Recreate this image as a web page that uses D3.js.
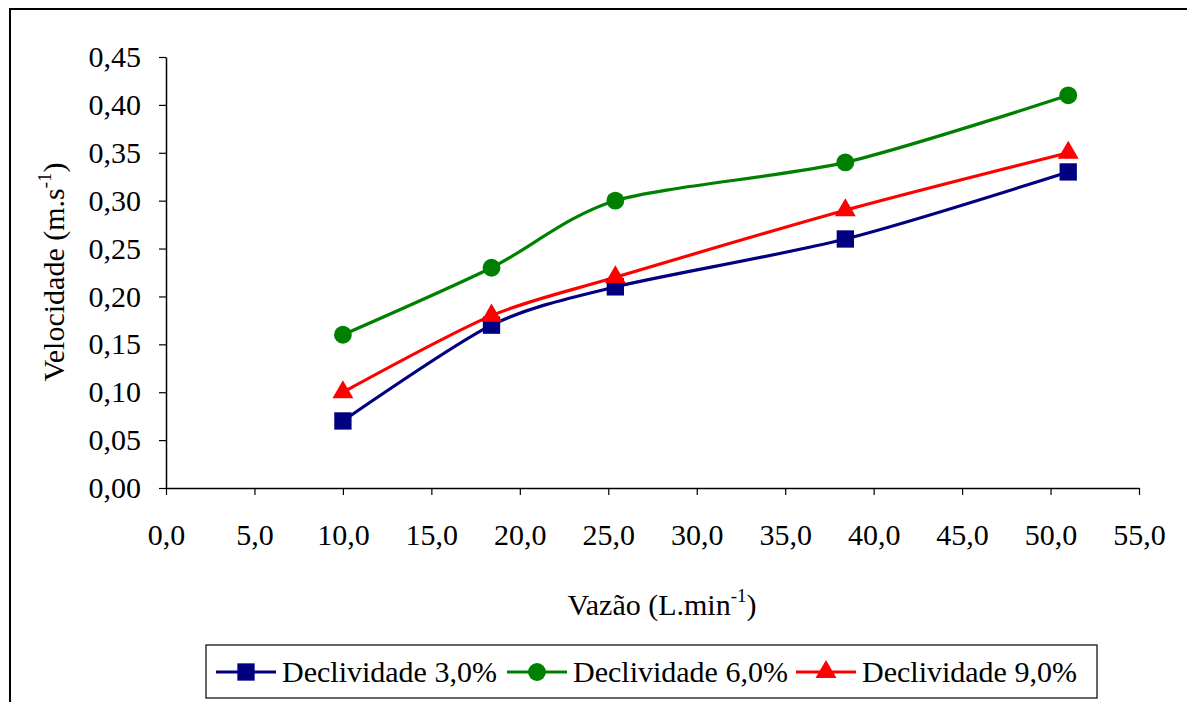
<!DOCTYPE html>
<html>
<head>
<meta charset="utf-8">
<script src="https://cdn.jsdelivr.net/npm/d3@7"></script>
<style>
  html, body { margin: 0; padding: 0; background: #fff; }
  svg { display: block; }
</style>
</head>
<body>
<svg id="chart" width="1187" height="702"></svg>
<script>
// Flow rate (L/min) at each measurement
const vazao = [10.0, 18.4, 25.4, 38.4, 51.0];
// Mean velocity (m/s) for each slope
const decl3 = [0.07, 0.17, 0.21, 0.26, 0.33];
const decl6 = [0.16, 0.23, 0.30, 0.34, 0.41];
const decl9 = [0.10, 0.18, 0.22, 0.29, 0.35];
const seriesNames = ["Declividade 3,0%", "Declividade 6,0%", "Declividade 9,0%"];
const xTicks = [0, 5, 10, 15, 20, 25, 30, 35, 40, 45, 50, 55];
const yTicks = [0, 0.05, 0.10, 0.15, 0.20, 0.25, 0.30, 0.35, 0.40, 0.45];

const svg = d3.select("#chart");
const fmtX = d => d.toFixed(1).replace(".", ",");
const fmtY = d => d.toFixed(2).replace(".", ",");

// outer chart frame (right and bottom edges run off the page)
svg.append("rect")
  .attr("x", 10).attr("y", 9).attr("width", 1200).attr("height", 720)
  .attr("fill", "none").attr("stroke", "#000").attr("stroke-width", 2);

const x = d3.scaleLinear().domain([0, 55]).range([166, 1139]);
const y = d3.scaleLinear().domain([0, 0.45]).range([488, 57]);

// axes
const xAxis = svg.append("g").attr("transform", "translate(0,488)")
  .call(d3.axisBottom(x).tickValues(xTicks).tickFormat(fmtX).tickSize(7).tickSizeOuter(0).tickPadding(29));
const yAxis = svg.append("g").attr("transform", "translate(166,0)")
  .call(d3.axisLeft(y).tickValues(yTicks).tickFormat(fmtY).tickSize(7).tickSizeOuter(0).tickPadding(18));

[xAxis, yAxis].forEach(g => {
  g.select(".domain").attr("stroke", "#000").attr("stroke-width", 1.5);
  g.selectAll(".tick line").attr("stroke", "#000").attr("stroke-width", 1.2);
  g.selectAll(".tick text").attr("fill", "#000").style("font-size", "30px");
});

// axis titles
const xt = svg.append("text").attr("x", 662).attr("y", 615)
  .attr("text-anchor", "middle").style("font-size", "30px").attr("fill", "#000");
xt.append("tspan").text("Vazão (L.min");
xt.append("tspan").attr("dy", -13).style("font-size", "19px").text("-1");
xt.append("tspan").attr("dy", 13).text(")");

const yt = svg.append("text").attr("transform", "translate(64,272) rotate(-90)")
  .attr("text-anchor", "middle").style("font-size", "30px").attr("fill", "#000");
yt.append("tspan").text("Velocidade (m.s");
yt.append("tspan").attr("dy", -13).style("font-size", "19px").text("-1");
yt.append("tspan").attr("dy", 13).text(")");

// series
const series = [
  { name: seriesNames[0], values: decl3, color: "#000080", symbol: d3.symbolSquare, size: 300 },
  { name: seriesNames[1], values: decl6, color: "#008000", symbol: d3.symbolCircle, size: 250 },
  { name: seriesNames[2], values: decl9, color: "#FF0000", symbol: d3.symbolTriangle, size: 190 }
];

const line = d3.line()
  .x((d, i) => x(vazao[i]))
  .y(d => y(d))
  .curve(d3.curveCardinal.tension(0.2));

series.forEach(s => {
  svg.append("path")
    .attr("d", line(s.values))
    .attr("fill", "none").attr("stroke", s.color).attr("stroke-width", 3.2);
});
series.forEach(s => {
  svg.append("g").selectAll("path").data(s.values).join("path")
    .attr("transform", (d, i) => `translate(${x(vazao[i])},${y(d)})`)
    .attr("d", d3.symbol().type(s.symbol).size(s.size))
    .attr("fill", s.color);
});

// legend
const lg = svg.append("g");
lg.append("rect").attr("x", 206).attr("y", 645).attr("width", 891).attr("height", 53)
  .attr("fill", "#fff").attr("stroke", "#000").attr("stroke-width", 1.2);
const legendX = [216, 507, 796];
series.forEach((s, i) => {
  const gx = legendX[i], gy = 672;
  lg.append("line").attr("x1", gx).attr("x2", gx + 60).attr("y1", gy).attr("y2", gy)
    .attr("stroke", s.color).attr("stroke-width", 3.2);
  lg.append("path").attr("transform", `translate(${gx + 30},${gy})`)
    .attr("d", d3.symbol().type(s.symbol).size(s.size)).attr("fill", s.color);
  lg.append("text").attr("x", gx + 66).attr("y", gy + 10)
    .style("font-size", "30px").attr("fill", "#000").text(s.name);
});

// serif face for every label
svg.selectAll("text, tspan").style("font-family", '"Liberation Serif"');
</script>
</body>
</html>
